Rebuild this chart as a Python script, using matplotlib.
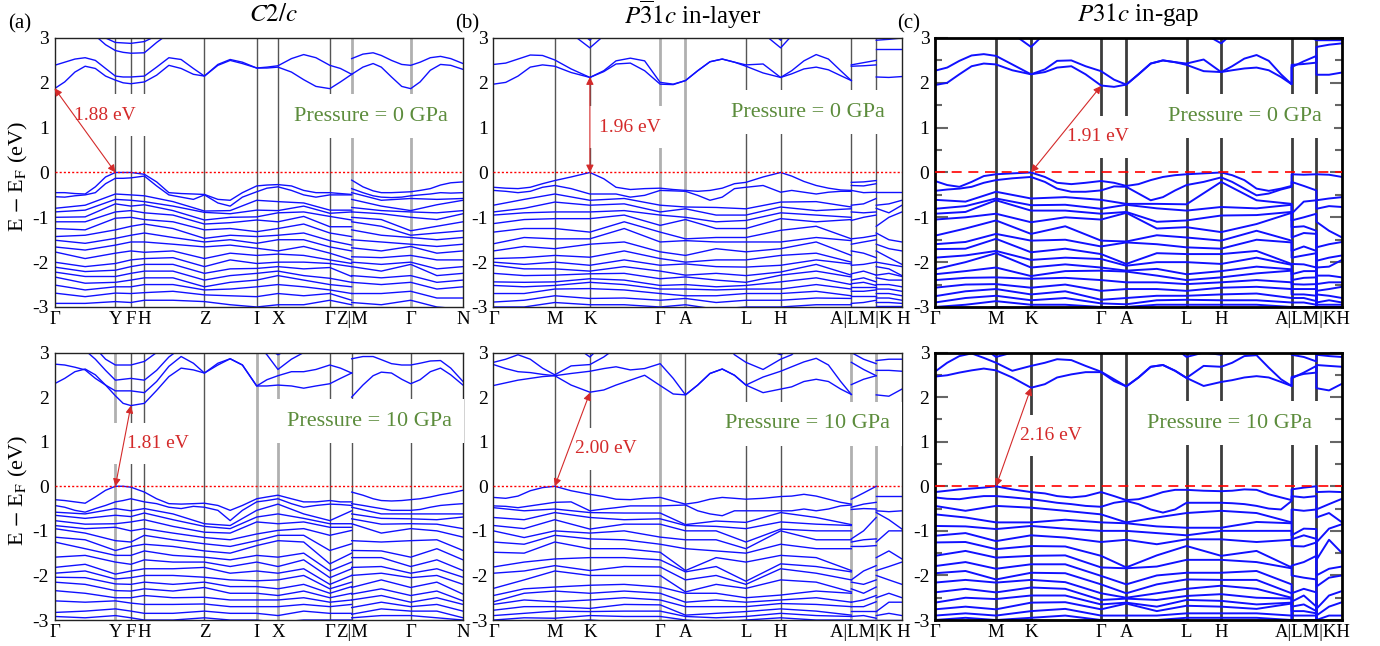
# ==========================================
# BAND STRUCTURES  C2/c | P-31c | P31c
# 0 GPa (top row) and 10 GPa (bottom row)
# ==========================================

import numpy as np
import matplotlib
matplotlib.use("Agg")
import matplotlib.pyplot as plt

plt.rcParams["font.family"] = ["Liberation Serif", "DejaVu Serif"]
plt.rcParams["mathtext.fontset"] = "stix"

BLUE = "#1010ff"
RED = "#d42a2a"
GREEN = "#5c8c3c"


# ==========================================
# K-PATHS
# fine grid: conduction bands + two top valence bands (one row per band)
# coarse grid: deeper valence bands (one row per k-point, sorted)
# ==========================================

a_f1 = [0, 0.025, 0.05, 0.075, 0.10, 0.125, 0.149, 0.168, 0.187, 0.22, 0.25, 0.28, 0.31, 0.34,
        0.367, 0.40, 0.43, 0.46, 0.495, 0.52, 0.547, 0.58, 0.61, 0.64, 0.674, 0.70, 0.7275]
a_f2 = [0.7275, 0.755, 0.78, 0.80, 0.825, 0.85, 0.872, 0.895, 0.92, 0.945, 0.97, 1.0]
a_k1 = [0, 0.075, 0.149, 0.187, 0.22, 0.29, 0.367, 0.43, 0.495, 0.547, 0.61, 0.674, 0.7275]
a_k2 = [0.7275, 0.80, 0.872, 0.936, 1.0]
a_ticks = [0, 0.149, 0.187, 0.22, 0.367, 0.495, 0.547, 0.674, 0.7275, 0.872, 1.0]
a_labels = ["Γ", "Y", "F", "H", "Z", "I", "X", "Γ", "Z|M", "Γ", "N"]

hex_f1 = [0, 0.03, 0.06, 0.09, 0.12, 0.15, 0.19, 0.236, 0.27, 0.30, 0.335, 0.37, 0.408, 0.44,
          0.47, 0.50, 0.53, 0.56, 0.59, 0.618, 0.66, 0.703, 0.73, 0.76, 0.79, 0.82, 0.85, 0.876]
hex_k1 = [0, 0.075, 0.15, 0.236, 0.32, 0.408, 0.47, 0.545, 0.618, 0.703, 0.79, 0.876]
hex_k2 = [0.876, 0.906, 0.937]
hex_k3 = [0.937, 0.968, 1.0]
hex_ticks = [0, 0.15, 0.236, 0.408, 0.47, 0.618, 0.703, 0.876, 0.937, 1.0]
hex_labels = ["Γ", "M", "K", "Γ", "A", "L", "H", "", "", ""]
b_tail = "A|LM|K H"
c_tail = "A|LM|KH"


# ==========================================
# (a) C2/c, 0 GPa
# ==========================================

a0_f1 = [
    [1.87, 2.02, 2.24, 2.37, 2.32, 2.15, 2.06, 2.00, 1.98, 2.02, 2.17, 2.39, 2.32, 2.19, 2.15, 2.39, 2.50, 2.43, 2.33, 2.33, 2.35, 2.24, 2.07, 1.92, 1.87, 2.02, 2.19],
    [2.39, 2.46, 2.53, 2.56, 2.50, 2.32, 2.15, 2.13, 2.13, 2.15, 2.35, 2.56, 2.52, 2.32, 2.15, 2.41, 2.52, 2.46, 2.33, 2.35, 2.38, 2.54, 2.63, 2.56, 2.39, 2.32, 2.19],
    [3.30, 3.30, 3.30, 3.20, 3.05, 2.85, 2.72, 2.68, 2.66, 2.67, 2.90, 3.10, 3.30, 3.30, 3.30, 3.30, 3.30, 3.30, 3.30, 3.20, 3.02, 3.20, 3.30, 3.30, 3.30, 3.30, 3.30],
    [3.50, 3.50, 3.50, 3.40, 3.20, 3.00, 2.90, 2.89, 2.88, 2.92, 3.05, 3.20, 3.50, 3.50, 3.50, 3.50, 3.50, 3.50, 3.50, 3.50, 3.50, 3.50, 3.50, 3.50, 3.50, 3.50, 3.50],
    [-0.45, -0.45, -0.47, -0.48, -0.32, -0.10, 0.00, 0.00, 0.00, -0.04, -0.21, -0.45, -0.47, -0.48, -0.49, -0.60, -0.62, -0.45, -0.30, -0.28, -0.27, -0.30, -0.40, -0.45, -0.45, -0.47, -0.49],
    [-0.54, -0.55, -0.52, -0.50, -0.45, -0.25, -0.13, -0.13, -0.12, -0.08, -0.30, -0.50, -0.55, -0.60, -0.50, -0.68, -0.75, -0.55, -0.43, -0.35, -0.32, -0.40, -0.50, -0.55, -0.50, -0.50, -0.50],
]
a0_f2 = [
    [2.19, 2.35, 2.43, 2.35, 2.13, 1.92, 1.87, 2.02, 2.28, 2.41, 2.39, 2.30],
    [2.54, 2.64, 2.67, 2.61, 2.50, 2.41, 2.39, 2.46, 2.56, 2.59, 2.54, 2.43],
    [-0.17, -0.32, -0.41, -0.45, -0.45, -0.44, -0.43, -0.40, -0.36, -0.28, -0.23, -0.21],
    [-0.36, -0.45, -0.52, -0.55, -0.56, -0.55, -0.52, -0.50, -0.48, -0.45, -0.46, -0.45],
]
a0_v1 = [
    [-0.80, -0.88, -1.00, -1.10, -1.25, -1.43, -1.51, -1.66, -1.77, -2.00, -2.11, -2.22, -2.33, -2.51, -2.69, -2.92],
    [-0.73, -0.84, -0.99, -1.10, -1.28, -1.40, -1.58, -1.73, -1.92, -2.10, -2.21, -2.32, -2.47, -2.62, -2.77, -2.92],
    [-0.48, -0.60, -0.70, -0.88, -1.02, -1.28, -1.47, -1.62, -1.80, -2.03, -2.18, -2.32, -2.45, -2.55, -2.69, -2.88],
    [-0.50, -0.62, -0.75, -0.85, -1.00, -1.20, -1.40, -1.55, -1.75, -1.95, -2.10, -2.25, -2.40, -2.55, -2.70, -2.90],
    [-0.52, -0.65, -0.72, -0.90, -1.05, -1.15, -1.35, -1.55, -1.78, -1.92, -2.05, -2.20, -2.35, -2.50, -2.68, -2.85],
    [-0.65, -0.75, -0.85, -0.95, -1.10, -1.25, -1.45, -1.60, -1.75, -1.90, -2.05, -2.20, -2.35, -2.50, -2.65, -2.85],
    [-0.86, -0.89, -1.06, -1.15, -1.28, -1.47, -1.55, -1.66, -1.92, -2.10, -2.25, -2.40, -2.55, -2.62, -2.73, -2.88],
    [-0.85, -0.92, -1.00, -1.12, -1.25, -1.40, -1.50, -1.62, -1.80, -1.95, -2.15, -2.30, -2.45, -2.60, -2.75, -2.95],
    [-0.62, -0.84, -0.99, -1.06, -1.32, -1.43, -1.58, -1.69, -1.85, -2.03, -2.14, -2.25, -2.40, -2.55, -2.77, -3.00],
    [-0.65, -0.85, -0.90, -1.10, -1.25, -1.40, -1.50, -1.75, -1.82, -2.00, -2.10, -2.20, -2.30, -2.50, -2.70, -2.95],
    [-0.68, -0.75, -0.88, -0.98, -1.15, -1.35, -1.50, -1.65, -1.85, -2.00, -2.15, -2.30, -2.40, -2.55, -2.75, -2.95],
    [-0.84, -0.91, -0.98, -1.21, -1.35, -1.52, -1.66, -1.80, -1.95, -2.03, -2.12, -2.36, -2.50, -2.62, -2.70, -2.85],
    [-0.84, -0.88, -1.06, -1.21, -1.43, -1.62, -1.75, -1.95, -2.03, -2.10, -2.32, -2.45, -2.55, -2.70, -2.85, -2.95],
]
a0_v2 = [
    [-0.45, -0.60, -0.78, -0.88, -1.00, -1.10, -1.28, -1.50, -1.68, -1.88, -2.00, -2.10, -2.30, -2.45, -2.70, -2.90],
    [-0.62, -0.75, -0.85, -0.92, -1.05, -1.20, -1.40, -1.55, -1.75, -1.90, -2.05, -2.20, -2.35, -2.50, -2.70, -2.95],
    [-0.58, -0.85, -0.88, -1.00, -1.30, -1.40, -1.45, -1.60, -1.65, -1.85, -2.00, -2.05, -2.30, -2.45, -2.65, -2.85],
    [-0.60, -0.72, -0.90, -1.05, -1.20, -1.35, -1.50, -1.65, -1.80, -1.95, -2.15, -2.30, -2.45, -2.60, -2.80, -3.00],
    [-0.58, -0.62, -0.85, -0.92, -1.10, -1.30, -1.45, -1.60, -1.75, -1.95, -2.10, -2.25, -2.40, -2.55, -2.80, -3.05],
]


# ==========================================
# (a) C2/c, 10 GPa
# ==========================================

a1_f1 = [
    [2.30, 2.42, 2.57, 2.63, 2.50, 2.27, 2.03, 1.86, 1.81, 1.86, 2.15, 2.46, 2.65, 2.61, 2.54, 2.72, 2.86, 2.72, 2.25, 2.25, 2.27, 2.25, 2.20, 2.25, 2.30, 2.42, 2.54],
    [2.74, 2.72, 2.67, 2.61, 2.42, 2.27, 2.14, 2.14, 2.14, 2.10, 2.35, 2.69, 2.91, 2.76, 2.54, 2.76, 2.86, 2.72, 2.25, 2.39, 2.48, 2.57, 2.57, 2.62, 2.72, 2.65, 2.54],
    [3.30, 3.30, 3.20, 3.05, 2.85, 2.60, 2.38, 2.40, 2.42, 2.38, 2.60, 2.90, 3.10, 3.30, 3.30, 3.30, 3.30, 3.30, 3.20, 2.95, 2.62, 2.85, 3.00, 3.30, 3.30, 3.30, 3.30],
    [3.50, 3.50, 3.40, 3.30, 3.10, 2.85, 2.72, 2.72, 2.72, 2.80, 3.00, 3.20, 3.50, 3.50, 3.50, 3.50, 3.50, 3.50, 3.40, 3.10, 2.95, 3.10, 3.30, 3.50, 3.50, 3.50, 3.50],
    [-0.30, -0.32, -0.35, -0.38, -0.24, -0.09, 0.00, 0.00, -0.02, -0.13, -0.28, -0.39, -0.40, -0.39, -0.38, -0.43, -0.54, -0.43, -0.28, -0.24, -0.20, -0.28, -0.35, -0.35, -0.32, -0.35, -0.35],
    [-0.43, -0.47, -0.54, -0.58, -0.50, -0.43, -0.35, -0.32, -0.28, -0.35, -0.39, -0.47, -0.50, -0.45, -0.47, -0.54, -0.77, -0.54, -0.35, -0.32, -0.28, -0.39, -0.47, -0.43, -0.40, -0.41, -0.43],
]
a1_f2 = [
    [2.00, 2.27, 2.48, 2.56, 2.54, 2.40, 2.30, 2.39, 2.57, 2.65, 2.50, 2.27],
    [2.86, 2.91, 2.91, 2.84, 2.75, 2.72, 2.72, 2.76, 2.81, 2.82, 2.65, 2.35],
    [-0.13, -0.20, -0.28, -0.32, -0.33, -0.32, -0.30, -0.28, -0.24, -0.19, -0.15, -0.09],
    [-0.39, -0.43, -0.47, -0.50, -0.54, -0.54, -0.54, -0.52, -0.47, -0.43, -0.41, -0.39],
]
a1_v1 = [
    [-0.58, -0.65, -0.77, -0.88, -0.95, -1.14, -1.25, -1.59, -1.82, -1.95, -2.04, -2.15, -2.34, -2.57, -2.83, -2.92],
    [-0.62, -0.72, -0.85, -0.95, -1.05, -1.20, -1.40, -1.55, -1.75, -1.90, -2.05, -2.20, -2.40, -2.60, -2.80, -2.95],
    [-0.50, -0.65, -0.84, -0.92, -1.22, -1.44, -1.55, -1.70, -1.97, -2.08, -2.19, -2.34, -2.50, -2.57, -2.75, -2.90],
    [-0.55, -0.68, -0.80, -1.00, -1.25, -1.35, -1.55, -1.75, -1.90, -2.05, -2.20, -2.35, -2.50, -2.62, -2.80, -2.95],
    [-0.50, -0.60, -0.75, -0.95, -1.10, -1.30, -1.45, -1.65, -1.85, -2.00, -2.15, -2.30, -2.45, -2.65, -2.85, -3.00],
    [-0.62, -0.75, -0.90, -1.05, -1.20, -1.35, -1.55, -1.70, -1.85, -2.00, -2.20, -2.35, -2.50, -2.65, -2.85, -3.00],
    [-0.84, -0.90, -1.03, -1.15, -1.29, -1.45, -1.59, -1.70, -1.82, -2.04, -2.15, -2.27, -2.49, -2.64, -2.80, -2.95],
    [-0.88, -0.95, -1.05, -1.20, -1.35, -1.50, -1.65, -1.80, -1.95, -2.10, -2.25, -2.40, -2.55, -2.70, -2.85, -3.00],
    [-0.54, -0.69, -0.80, -1.07, -1.22, -1.33, -1.55, -1.70, -1.90, -2.12, -2.25, -2.40, -2.55, -2.70, -2.85, -3.00],
    [-0.40, -0.62, -0.84, -0.99, -1.10, -1.22, -1.59, -1.80, -1.95, -2.10, -2.30, -2.45, -2.55, -2.70, -2.90, -3.05],
    [-0.62, -0.72, -0.80, -0.95, -1.10, -1.25, -1.50, -1.65, -1.85, -2.00, -2.20, -2.35, -2.50, -2.65, -2.80, -3.00],
    [-0.77, -0.84, -0.92, -1.10, -1.44, -1.74, -1.90, -2.05, -2.20, -2.30, -2.40, -2.50, -2.60, -2.70, -2.85, -3.00],
    [-0.55, -0.84, -0.92, -0.99, -1.29, -1.50, -1.70, -1.85, -2.00, -2.15, -2.25, -2.40, -2.55, -2.65, -2.85, -3.00],
]
a1_v2 = [
    [-0.47, -0.62, -0.73, -0.84, -1.22, -1.44, -1.60, -1.82, -2.00, -2.27, -2.42, -2.55, -2.72, -2.87, -2.95, -3.10],
    [-0.62, -0.72, -0.85, -1.05, -1.25, -1.45, -1.60, -1.80, -1.95, -2.10, -2.30, -2.45, -2.60, -2.75, -2.90, -3.05],
    [-0.62, -0.73, -0.84, -0.95, -1.22, -1.59, -1.80, -1.95, -2.05, -2.27, -2.45, -2.60, -2.70, -2.80, -2.90, -3.05],
    [-0.62, -0.75, -0.85, -1.00, -1.20, -1.40, -1.65, -1.85, -2.00, -2.15, -2.35, -2.50, -2.65, -2.80, -2.95, -3.05],
    [-0.62, -0.69, -0.95, -1.14, -1.44, -1.65, -1.89, -2.04, -2.20, -2.42, -2.57, -2.65, -2.80, -2.95, -3.00, -3.10],
]


# ==========================================
# (b) P-31c in-layer, 0 GPa
# ==========================================

b0_f1 = [
    [1.97, 2.01, 2.15, 2.35, 2.40, 2.37, 2.23, 2.12, 2.25, 2.42, 2.44, 2.27, 1.97, 1.96, 2.05, 2.27, 2.47, 2.53, 2.46, 2.37, 2.22, 2.12, 2.20, 2.31, 2.35, 2.29, 2.16, 2.05],
    [2.41, 2.44, 2.53, 2.62, 2.61, 2.51, 2.31, 2.12, 2.27, 2.49, 2.55, 2.49, 2.01, 1.97, 2.05, 2.27, 2.47, 2.53, 2.46, 2.40, 2.42, 2.12, 2.27, 2.49, 2.63, 2.53, 2.27, 2.05],
    [3.30, 3.30, 3.30, 3.30, 3.30, 3.30, 3.10, 2.78, 3.05, 3.30, 3.30, 3.30, 3.30, 3.30, 3.30, 3.30, 3.30, 3.30, 3.30, 3.30, 3.10, 2.78, 3.05, 3.30, 3.30, 3.30, 3.30, 3.30],
    [3.50, 3.50, 3.50, 3.50, 3.50, 3.50, 3.30, 2.95, 3.30, 3.50, 3.50, 3.50, 3.50, 3.50, 3.50, 3.50, 3.50, 3.50, 3.50, 3.50, 3.30, 2.95, 3.30, 3.50, 3.50, 3.50, 3.50, 3.50],
    [-0.33, -0.35, -0.36, -0.33, -0.25, -0.18, -0.10, 0.00, -0.14, -0.33, -0.38, -0.36, -0.35, -0.38, -0.40, -0.42, -0.40, -0.35, -0.25, -0.22, -0.10, 0.00, -0.08, -0.20, -0.29, -0.35, -0.39, -0.40],
    [-0.40, -0.42, -0.45, -0.42, -0.33, -0.29, -0.36, -0.48, -0.48, -0.48, -0.55, -0.51, -0.40, -0.41, -0.42, -0.51, -0.62, -0.55, -0.36, -0.33, -0.29, -0.44, -0.40, -0.44, -0.48, -0.44, -0.42, -0.42],
]
b0_f2 = [[2.37, 2.38, 2.40], [2.40, 2.45, 2.50], [3.20, 3.20, 3.20],
         [-0.22, -0.21, -0.18], [-0.29, -0.30, -0.25]]
b0_f3 = [[2.13, 2.12, 2.14], [2.75, 2.75, 2.75], [2.95, 2.97, 3.00],
         [-0.44, -0.44, -0.44], [-0.73, -0.70, -0.62]]
b0_v1 = [
    [-0.73, -0.88, -0.95, -1.14, -1.33, -1.59, -1.75, -1.92, -2.00, -2.07, -2.25, -2.44, -2.52, -2.70, -2.89, -3.00],
    [-0.60, -0.80, -0.90, -1.05, -1.25, -1.45, -1.65, -1.90, -2.05, -2.15, -2.30, -2.45, -2.55, -2.70, -2.85, -3.00],
    [-0.48, -0.66, -0.88, -1.03, -1.25, -1.48, -1.70, -1.85, -2.00, -2.15, -2.29, -2.44, -2.52, -2.60, -2.75, -2.90],
    [-0.62, -0.73, -0.88, -1.03, -1.33, -1.48, -1.60, -1.89, -2.07, -2.20, -2.26, -2.37, -2.45, -2.59, -2.81, -2.95],
    [-0.58, -0.70, -0.85, -0.95, -1.10, -1.25, -1.55, -1.75, -1.95, -2.10, -2.25, -2.40, -2.50, -2.62, -2.80, -2.95],
    [-0.73, -0.88, -0.95, -1.18, -1.33, -1.55, -1.77, -1.92, -2.07, -2.20, -2.37, -2.52, -2.60, -2.70, -2.85, -3.00],
    [-0.77, -0.81, -1.00, -1.05, -1.48, -1.52, -1.85, -2.00, -2.04, -2.29, -2.33, -2.50, -2.60, -2.75, -2.81, -2.95],
    [-0.78, -0.95, -1.10, -1.25, -1.45, -1.55, -1.70, -1.95, -2.10, -2.25, -2.40, -2.55, -2.62, -2.75, -2.90, -3.05],
    [-0.81, -0.95, -1.07, -1.25, -1.45, -1.55, -1.77, -1.95, -2.11, -2.30, -2.45, -2.52, -2.60, -2.70, -2.85, -3.00],
    [-0.66, -0.77, -0.90, -1.03, -1.29, -1.55, -1.70, -1.85, -2.07, -2.22, -2.29, -2.44, -2.60, -2.70, -2.85, -3.00],
    [-0.65, -0.85, -0.95, -1.10, -1.20, -1.45, -1.55, -1.80, -1.95, -2.05, -2.20, -2.35, -2.50, -2.65, -2.80, -2.95],
    [-0.77, -0.81, -1.00, -1.05, -1.48, -1.52, -1.85, -2.00, -2.04, -2.29, -2.33, -2.50, -2.60, -2.75, -2.81, -2.95],
]
b0_v2 = [
    [-0.40, -0.73, -0.88, -1.07, -1.48, -1.60, -1.75, -2.07, -2.26, -2.40, -2.48, -2.55, -2.65, -2.75, -2.92, -3.00],
    [-0.45, -0.70, -0.90, -1.00, -1.45, -1.55, -1.80, -2.05, -2.20, -2.35, -2.45, -2.55, -2.65, -2.75, -2.90, -3.00],
    [-0.44, -0.58, -0.88, -0.95, -1.40, -1.50, -1.90, -2.00, -2.29, -2.44, -2.52, -2.55, -2.62, -2.75, -2.85, -3.00],
]
b0_v3 = [
    [-0.80, -1.20, -1.35, -1.60, -1.75, -2.00, -2.10, -2.29, -2.35, -2.50, -2.60, -2.70, -2.80, -2.90, -2.98, -3.05],
    [-0.90, -1.00, -1.50, -1.70, -1.90, -2.05, -2.15, -2.25, -2.40, -2.50, -2.60, -2.70, -2.80, -2.90, -2.98, -3.05],
    [-0.73, -0.88, -1.55, -1.75, -2.05, -2.10, -2.30, -2.32, -2.40, -2.55, -2.65, -2.75, -2.85, -2.92, -2.98, -3.05],
]


# ==========================================
# (b) P-31c in-layer, 10 GPa
# ==========================================

b1_f1 = [
    [2.26, 2.32, 2.38, 2.42, 2.46, 2.48, 2.27, 2.11, 2.16, 2.27, 2.38, 2.49, 2.26, 2.07, 2.05, 2.27, 2.53, 2.63, 2.49, 2.27, 2.10, 2.18, 2.23, 2.35, 2.40, 2.35, 2.18, 2.06],
    [2.73, 2.64, 2.57, 2.55, 2.51, 2.48, 2.53, 2.58, 2.64, 2.68, 2.61, 2.64, 2.75, 2.42, 2.05, 2.27, 2.53, 2.63, 2.49, 2.27, 2.45, 2.58, 2.68, 2.79, 2.87, 2.72, 2.35, 2.06],
    [2.78, 2.85, 2.95, 2.85, 2.65, 2.50, 2.70, 2.73, 2.90, 3.10, 3.30, 3.30, 3.30, 3.30, 3.30, 3.30, 3.30, 3.30, 2.95, 2.78, 2.62, 2.85, 2.95, 3.20, 3.30, 3.30, 3.30, 3.30],
    [3.50, 3.50, 3.50, 3.50, 3.50, 3.50, 3.20, 2.90, 3.20, 3.50, 3.50, 3.50, 3.50, 3.50, 3.50, 3.50, 3.50, 3.50, 3.50, 3.30, 3.10, 2.95, 3.10, 3.30, 3.50, 3.50, 3.50, 3.50],
    [-0.25, -0.27, -0.22, -0.10, -0.03, 0.00, -0.10, -0.18, -0.23, -0.29, -0.30, -0.27, -0.25, -0.33, -0.40, -0.36, -0.29, -0.25, -0.27, -0.29, -0.27, -0.23, -0.22, -0.18, -0.22, -0.29, -0.36, -0.40],
    [-0.44, -0.45, -0.48, -0.44, -0.40, -0.36, -0.35, -0.55, -0.51, -0.48, -0.44, -0.44, -0.44, -0.43, -0.42, -0.55, -0.62, -0.66, -0.55, -0.55, -0.55, -0.55, -0.55, -0.51, -0.55, -0.51, -0.44, -0.42],
]
b1_f2 = [[2.28, 2.40, 2.48], [2.78, 2.62, 2.48], [3.00, 2.85, 2.75],
         [-0.29, -0.15, 0.00], [-0.47, -0.40, -0.36]]
b1_f3 = [[2.05, 2.02, 2.18], [2.60, 2.60, 2.58], [2.82, 2.85, 2.85],
         [-0.22, -0.22, -0.22], [-0.55, -0.57, -0.55]]
b1_v1 = [
    [-0.48, -0.70, -0.88, -1.00, -1.25, -1.48, -1.81, -1.95, -2.29, -2.45, -2.59, -2.65, -2.78, -2.90, -3.00, -3.10],
    [-0.55, -0.75, -0.95, -1.15, -1.30, -1.50, -1.70, -1.90, -2.10, -2.30, -2.40, -2.55, -2.70, -2.85, -2.95, -3.10],
    [-0.51, -0.59, -0.75, -1.00, -1.10, -1.25, -1.63, -1.78, -1.90, -2.26, -2.35, -2.59, -2.70, -2.80, -2.96, -3.05],
    [-0.59, -0.70, -0.96, -1.05, -1.18, -1.40, -1.60, -1.89, -2.00, -2.22, -2.40, -2.55, -2.74, -2.81, -2.90, -3.00],
    [-0.60, -0.75, -0.85, -1.00, -1.20, -1.40, -1.60, -1.80, -2.00, -2.20, -2.35, -2.50, -2.65, -2.80, -2.92, -3.05],
    [-0.60, -0.73, -0.85, -1.14, -1.30, -1.48, -1.65, -1.81, -2.00, -2.26, -2.40, -2.55, -2.66, -2.80, -2.92, -3.05],
    [-0.86, -0.88, -1.00, -1.20, -1.40, -1.89, -1.92, -2.10, -2.37, -2.40, -2.60, -2.70, -2.89, -2.92, -3.00, -3.10],
    [-0.78, -0.90, -1.00, -1.20, -1.45, -1.60, -1.80, -2.00, -2.20, -2.40, -2.55, -2.70, -2.85, -2.95, -3.05, -3.15],
    [-0.81, -0.95, -1.25, -1.40, -1.50, -1.70, -2.13, -2.20, -2.29, -2.50, -2.60, -2.70, -2.81, -2.92, -3.00, -3.10],
    [-0.59, -0.80, -0.96, -1.00, -1.30, -1.55, -1.74, -1.85, -2.10, -2.44, -2.55, -2.63, -2.75, -2.85, -2.95, -3.05],
    [-0.70, -0.85, -1.00, -1.20, -1.40, -1.60, -1.80, -1.95, -2.15, -2.35, -2.50, -2.65, -2.80, -2.90, -3.00, -3.10],
    [-0.86, -0.88, -1.00, -1.20, -1.40, -1.89, -1.92, -2.10, -2.37, -2.40, -2.60, -2.70, -2.89, -2.92, -3.00, -3.10],
]
b1_v2 = [
    [-0.52, -1.18, -1.25, -1.35, -2.10, -2.15, -2.30, -2.60, -2.70, -2.80, -2.92, -3.00, -3.05, -3.10, -3.15, -3.20],
    [-0.50, -1.00, -1.20, -1.35, -1.90, -2.20, -2.40, -2.55, -2.70, -2.80, -2.90, -3.00, -3.05, -3.10, -3.15, -3.20],
    [-0.51, -0.70, -1.18, -1.33, -1.78, -2.10, -2.26, -2.45, -2.59, -2.80, -2.96, -3.00, -3.05, -3.10, -3.15, -3.20],
]
b1_v3 = [
    [-0.59, -1.25, -1.60, -1.89, -2.00, -2.50, -2.81, -2.90, -3.00, -3.05, -3.10, -3.15, -3.20, -3.25, -3.30, -3.35],
    [-0.75, -1.00, -1.45, -1.80, -2.10, -2.40, -2.60, -2.85, -3.00, -3.05, -3.10, -3.15, -3.20, -3.25, -3.30, -3.35],
    [-0.96, -1.00, -1.63, -1.70, -2.20, -2.50, -2.60, -2.90, -3.00, -3.05, -3.10, -3.15, -3.20, -3.25, -3.30, -3.35],
]


# ==========================================
# (c) P31c in-gap, 0 GPa
# ==========================================

c0_f1 = [
    [1.95, 2.00, 2.19, 2.37, 2.43, 2.41, 2.28, 2.19, 2.24, 2.34, 2.37, 2.19, 1.94, 1.91, 1.96, 2.19, 2.43, 2.50, 2.46, 2.40, 2.26, 2.24, 2.28, 2.32, 2.34, 2.28, 2.13, 1.97],
    [2.27, 2.34, 2.49, 2.61, 2.64, 2.60, 2.41, 2.19, 2.30, 2.49, 2.50, 2.37, 2.26, 2.07, 1.96, 2.19, 2.43, 2.50, 2.46, 2.43, 2.52, 2.24, 2.37, 2.54, 2.62, 2.49, 2.19, 1.97],
    [3.30, 3.30, 3.30, 3.30, 3.30, 3.30, 3.10, 2.80, 3.10, 3.30, 3.30, 3.30, 3.30, 3.30, 3.30, 3.30, 3.30, 3.30, 3.30, 3.30, 3.10, 2.88, 3.10, 3.30, 3.30, 3.30, 3.30, 3.30],
    [-0.19, -0.28, -0.32, -0.21, -0.08, -0.04, -0.02, 0.00, -0.10, -0.23, -0.26, -0.23, -0.19, -0.23, -0.30, -0.26, -0.17, -0.10, -0.06, -0.04, -0.02, 0.00, -0.06, -0.17, -0.36, -0.41, -0.36, -0.30],
    [-0.41, -0.38, -0.36, -0.32, -0.23, -0.17, -0.13, -0.10, -0.21, -0.36, -0.43, -0.43, -0.40, -0.31, -0.32, -0.47, -0.62, -0.55, -0.40, -0.28, -0.21, -0.11, -0.21, -0.36, -0.51, -0.47, -0.38, -0.32],
]
c0_f2 = [[2.35, 2.48, 2.60], [2.40, 2.42, 2.45], [3.20, 3.10, 2.95],
         [-0.04, -0.05, -0.04], [-0.21, -0.30, -0.40]]
c0_f3 = [[2.18, 2.18, 2.23], [2.80, 2.85, 2.88], [2.95, 2.95, 2.95],
         [-0.04, -0.05, -0.10], [-0.62, -0.58, -0.55]]
c0_v1 = [
    [-0.61, -0.81, -0.92, -1.05, -1.41, -1.60, -1.71, -1.90, -2.16, -2.27, -2.40, -2.57, -2.76, -2.90, -3.00, -3.10],
    [-0.65, -0.75, -0.88, -1.00, -1.25, -1.55, -1.70, -1.85, -2.00, -2.20, -2.35, -2.50, -2.65, -2.80, -2.95, -3.10],
    [-0.43, -0.58, -0.62, -0.92, -1.07, -1.37, -1.48, -1.75, -1.80, -2.12, -2.34, -2.49, -2.60, -2.75, -2.87, -3.00],
    [-0.58, -0.73, -0.85, -1.11, -1.37, -1.52, -1.78, -1.95, -2.12, -2.31, -2.37, -2.57, -2.72, -2.85, -2.95, -3.05],
    [-0.55, -0.72, -0.85, -1.00, -1.20, -1.50, -1.70, -1.90, -2.05, -2.20, -2.35, -2.50, -2.65, -2.80, -2.95, -3.05],
    [-0.61, -0.81, -0.92, -1.05, -1.52, -1.65, -1.82, -1.93, -2.12, -2.19, -2.40, -2.64, -2.84, -2.92, -3.00, -3.10],
    [-0.70, -0.72, -0.88, -0.90, -1.54, -1.56, -2.04, -2.08, -2.19, -2.21, -2.45, -2.60, -2.80, -2.94, -3.00, -3.10],
    [-0.70, -0.80, -1.10, -1.25, -1.40, -1.60, -1.80, -2.00, -2.15, -2.30, -2.45, -2.60, -2.75, -2.85, -2.95, -3.10],
    [-0.71, -0.85, -1.07, -1.22, -1.45, -1.67, -1.82, -2.00, -2.27, -2.40, -2.49, -2.64, -2.75, -2.84, -2.95, -3.05],
    [-0.21, -0.77, -0.96, -1.33, -1.52, -1.70, -1.82, -2.04, -2.20, -2.34, -2.45, -2.57, -2.72, -2.85, -2.95, -3.05],
    [-0.62, -0.80, -0.95, -1.15, -1.30, -1.50, -1.75, -1.90, -2.10, -2.25, -2.40, -2.55, -2.70, -2.85, -2.95, -3.05],
    [-0.70, -0.72, -0.88, -0.90, -1.52, -1.56, -2.04, -2.06, -2.16, -2.19, -2.45, -2.60, -2.80, -2.90, -3.00, -3.10],
]
c0_v2 = [
    [-0.92, -1.07, -1.22, -1.45, -1.75, -1.90, -2.04, -2.27, -2.40, -2.49, -2.60, -2.72, -2.80, -2.90, -3.00, -3.10],
    [-0.65, -1.00, -1.20, -1.35, -1.65, -1.85, -2.05, -2.20, -2.35, -2.50, -2.60, -2.72, -2.80, -2.90, -3.00, -3.10],
    [-0.62, -0.92, -1.30, -1.37, -1.75, -1.80, -2.12, -2.20, -2.34, -2.49, -2.60, -2.75, -2.87, -2.95, -3.00, -3.10],
]
c0_v3 = [
    [-0.81, -1.10, -1.67, -1.97, -2.12, -2.30, -2.49, -2.64, -2.72, -2.90, -2.95, -3.00, -3.05, -3.10, -3.15, -3.20],
    [-0.75, -1.30, -1.60, -1.90, -2.10, -2.30, -2.45, -2.60, -2.75, -2.85, -2.95, -3.00, -3.05, -3.10, -3.15, -3.20],
    [-0.77, -1.45, -1.55, -1.85, -1.95, -2.34, -2.45, -2.55, -2.80, -2.90, -2.95, -3.00, -3.05, -3.10, -3.15, -3.20],
]


# ==========================================
# (c) P31c in-gap, 10 GPa
# ==========================================

c1_f1 = [
    [2.46, 2.49, 2.55, 2.60, 2.64, 2.60, 2.44, 2.21, 2.29, 2.44, 2.51, 2.56, 2.56, 2.36, 2.24, 2.44, 2.68, 2.72, 2.59, 2.43, 2.25, 2.34, 2.38, 2.44, 2.47, 2.44, 2.34, 2.25],
    [2.57, 2.77, 2.92, 2.98, 2.88, 2.77, 2.59, 2.70, 2.77, 2.85, 2.83, 2.70, 2.57, 2.40, 2.24, 2.44, 2.68, 2.72, 2.59, 2.43, 2.70, 2.68, 2.77, 2.92, 2.94, 2.66, 2.40, 2.25],
    [3.30, 3.30, 3.30, 3.30, 3.10, 2.90, 3.00, 3.10, 3.30, 3.30, 3.30, 3.30, 3.30, 3.30, 3.30, 3.30, 3.30, 3.30, 3.10, 2.90, 3.00, 2.95, 3.10, 3.30, 3.30, 3.30, 3.30, 3.30],
    [-0.13, -0.10, -0.07, -0.05, -0.03, 0.00, -0.07, -0.13, -0.16, -0.22, -0.25, -0.22, -0.13, -0.22, -0.31, -0.29, -0.22, -0.13, -0.08, -0.08, -0.10, -0.11, -0.10, -0.07, -0.08, -0.18, -0.25, -0.31],
    [-0.25, -0.28, -0.29, -0.25, -0.22, -0.22, -0.25, -0.29, -0.33, -0.37, -0.40, -0.44, -0.46, -0.37, -0.33, -0.40, -0.52, -0.59, -0.52, -0.37, -0.37, -0.37, -0.38, -0.40, -0.44, -0.50, -0.52, -0.33],
]
c1_f2 = [[2.42, 2.55, 2.70], [2.45, 2.52, 2.55], [2.95, 2.90, 2.80],
         [-0.07, -0.03, 0.00], [-0.22, -0.25, -0.22]]
c1_f3 = [[2.20, 2.15, 2.30], [2.72, 2.70, 2.68], [2.95, 2.92, 2.90],
         [-0.13, -0.12, -0.13], [-0.52, -0.40, -0.28]]
c1_v1 = [
    [-0.44, -0.63, -0.89, -1.11, -1.26, -1.56, -1.79, -1.95, -2.16, -2.38, -2.61, -2.76, -2.90, -3.00, -3.10, -3.20],
    [-0.55, -0.70, -0.90, -1.05, -1.25, -1.45, -1.70, -1.90, -2.10, -2.30, -2.50, -2.70, -2.85, -2.95, -3.05, -3.20],
    [-0.44, -0.81, -0.96, -1.23, -1.41, -1.60, -1.85, -2.09, -2.16, -2.38, -2.53, -2.76, -2.90, -3.00, -3.10, -3.20],
    [-0.48, -0.81, -0.89, -1.10, -1.34, -1.56, -1.75, -1.94, -2.10, -2.27, -2.45, -2.61, -2.80, -2.95, -3.05, -3.20],
    [-0.55, -0.75, -0.95, -1.15, -1.35, -1.55, -1.75, -1.95, -2.15, -2.30, -2.45, -2.60, -2.75, -2.90, -3.05, -3.20],
    [-0.63, -0.81, -1.00, -1.25, -1.56, -1.82, -2.01, -2.20, -2.40, -2.55, -2.65, -2.76, -2.90, -3.00, -3.10, -3.20],
    [-0.81, -0.83, -1.00, -1.20, -1.82, -1.84, -2.20, -2.40, -2.50, -2.52, -2.61, -2.63, -2.90, -3.00, -3.10, -3.20],
    [-0.70, -0.90, -1.05, -1.30, -1.55, -1.80, -2.00, -2.20, -2.40, -2.55, -2.70, -2.80, -2.90, -3.00, -3.10, -3.20],
    [-0.60, -0.93, -1.10, -1.19, -1.34, -1.65, -1.94, -2.09, -2.30, -2.46, -2.55, -2.68, -2.85, -2.95, -3.05, -3.20],
    [-0.55, -0.93, -1.00, -1.19, -1.56, -1.65, -1.94, -2.10, -2.23, -2.42, -2.57, -2.70, -2.85, -2.95, -3.05, -3.20],
    [-0.60, -0.80, -1.00, -1.25, -1.45, -1.70, -1.90, -2.10, -2.30, -2.50, -2.65, -2.75, -2.85, -2.95, -3.05, -3.20],
    [-0.81, -0.83, -1.00, -1.20, -1.82, -1.84, -2.20, -2.40, -2.50, -2.52, -2.61, -2.63, -2.90, -3.00, -3.10, -3.20],
]
c1_v2 = [
    [-0.52, -1.10, -1.19, -1.34, -1.78, -2.00, -2.40, -2.59, -2.70, -2.80, -2.90, -3.00, -3.05, -3.10, -3.15, -3.20],
    [-0.55, -0.95, -1.10, -1.35, -1.70, -2.05, -2.30, -2.45, -2.65, -2.80, -2.90, -3.00, -3.05, -3.10, -3.15, -3.20],
    [-0.52, -0.96, -1.18, -1.26, -1.56, -2.09, -2.38, -2.70, -2.80, -2.85, -2.90, -3.00, -3.05, -3.10, -3.15, -3.20],
]
c1_v3 = [
    [-0.70, -1.26, -1.65, -2.00, -2.25, -2.75, -2.90, -3.00, -3.05, -3.10, -3.15, -3.20, -3.25, -3.30, -3.35, -3.40],
    [-0.60, -0.95, -1.20, -1.85, -2.05, -2.45, -2.70, -2.90, -3.05, -3.10, -3.15, -3.20, -3.25, -3.30, -3.35, -3.40],
    [-0.81, -0.85, -1.50, -1.80, -2.00, -2.35, -2.60, -2.90, -3.05, -3.10, -3.15, -3.20, -3.25, -3.30, -3.35, -3.40],
]


# ==========================================
# GAPS / LABELS
# ==========================================

titles = [r"$\mathit{C2/c}$", r"$P\overline{3}1c$ in-layer", r"$\mathit{P31c}$ in-gap"]
panel_tags = ["(a)", "(b)", "(c)"]
pressures = [0, 10]

# gap arrow ends (k, E) for [0 GPa, 10 GPa]
a_gap = [[(0.0, 1.88), (0.149, 0.0)], [(0.149, 0.0), (0.187, 1.81)]]
b_gap = [[(0.236, 0.0), (0.236, 2.13)], [(0.15, 0.0), (0.236, 2.10)]]
c_gap = [[(0.236, 0.0), (0.408, 1.93)], [(0.15, 0.0), (0.236, 2.21)]]
a_gap_text = ["1.88 eV", "1.81 eV"]
b_gap_text = ["1.96 eV", "2.00 eV"]
c_gap_text = ["1.91 eV", "2.16 eV"]


# ==========================================
# DRAWING HELPERS
# ==========================================

def draw_bands(ax, fine_ks, fine_rows, coarse_ks, coarse_cols, joined, lw):
    sets = [
        (fine_ks, [np.array(r) for r in fine_rows]),
        (coarse_ks, [np.array(c).T for c in coarse_cols]),
    ]
    for ks, Es in sets:
        if joined:
            # one line per band through all path pieces (jumps at A|L, M|K)
            ax.plot(np.concatenate(ks), np.hstack(Es).T, color=BLUE, lw=lw, zorder=2)
        else:
            for k, E in zip(ks, Es):
                ax.plot(k, E.T, color=BLUE, lw=lw, zorder=2)


def setup_axes(ax, ticks, labels, tail, vstyle, boxed):
    ax.set_xlim(0, 1)
    ax.set_ylim(-3, 3)
    styles = {"d": ("#555555", 1.0), "l": ("#b0b0b0", 2.0), "k": ("#3c3c3c", 2.0)}
    for x, s in zip(ticks[1:-1], vstyle):
        col, w = styles[s]
        ax.axvline(x, color=col, lw=w, zorder=1)

    ax.set_xticks(ticks)
    ax.set_xticklabels(labels, fontsize=13.5)
    ax.tick_params(axis="x", length=0, pad=3)
    if tail:
        ax.annotate(tail, xy=(1.0, 0.0), xycoords="axes fraction",
                    xytext=(6, -3), textcoords="offset points",
                    ha="right", va="top", fontsize=13.5)

    ax.set_yticks(range(-3, 4))
    ax.set_yticklabels([str(v) for v in range(-3, 4)], fontsize=14)

    if boxed:
        ax.set_yticks(np.arange(-3, 3.01, 0.5), minor=True)
        ax.tick_params(axis="y", which="major", direction="in", length=9,
                       width=1.5, color="#666666", left=True, right=True, pad=4)
        ax.tick_params(axis="y", which="minor", direction="in", length=5,
                       width=1.5, color="#666666", left=True, right=True)
        for sp in ax.spines.values():
            sp.set_linewidth(2.0)
            sp.set_color("black")
        ax.axhline(0, color="red", ls=(0, (6, 4)), lw=1.2, zorder=3)
    else:
        ax.tick_params(axis="y", length=0, pad=4)
        for sp in ax.spines.values():
            sp.set_linewidth(1.0)
            sp.set_color("#222222")
        ax.axhline(0, color="red", ls=(0, (1.5, 1.5)), lw=1.0, zorder=3)


def add_notes(ax, gap, gap_text, gap_xy, pressure, press_xy):
    ax.annotate("", xy=gap[1], xytext=gap[0],
                arrowprops=dict(arrowstyle="<|-|>", color=RED, lw=0.8,
                                mutation_scale=11, shrinkA=0, shrinkB=0),
                zorder=6)
    ax.text(gap_xy[0], gap_xy[1], gap_text, color=RED, fontsize=14,
            ha="center", va="center", zorder=5,
            bbox=dict(facecolor="white", edgecolor="none", pad=9))
    ax.text(press_xy[0], press_xy[1], f"Pressure = {pressure} GPa", color=GREEN,
            fontsize=16, ha="center", va="center", zorder=5,
            bbox=dict(facecolor="white", edgecolor="none", pad=9))


# ==========================================
# FIGURE
# ==========================================

fig = plt.figure(figsize=(13.8, 6.46), dpi=100)

col_left = [0.0395, 0.3576, 0.6775]
col_width = [0.2960, 0.2960, 0.2950]
row_bottom = [0.5248, 0.0402]
row_height = [0.4164, 0.4141]

panels = [
    # (a) C2/c
    dict(fine_ks=[a_f1, a_f2], coarse_ks=[a_k1, a_k2],
         ticks=a_ticks, labels=a_labels, tail=None, joined=False, lw=1.0, boxed=False,
         data=[([a0_f1, a0_f2], [a0_v1, a0_v2]), ([a1_f1, a1_f2], [a1_v1, a1_v2])],
         vstyle=[["d", "d", "d", "d", "d", "d", "d", "l", "l"],
                 ["l", "d", "d", "d", "l", "l", "d", "d", "d"]],
         gap=a_gap, gap_text=a_gap_text,
         gap_xy=[(0.123, 1.28), (0.253, 0.96)],
         press_xy=[(0.775, 1.25), (0.771, 1.46)]),
    # (b) P-31c in-layer
    dict(fine_ks=[hex_f1, hex_k2, hex_k3], coarse_ks=[hex_k1, hex_k2, hex_k3],
         ticks=hex_ticks, labels=hex_labels, tail=b_tail, joined=False, lw=1.0, boxed=False,
         data=[([b0_f1, b0_f2, b0_f3], [b0_v1, b0_v2, b0_v3]),
               ([b1_f1, b1_f2, b1_f3], [b1_v1, b1_v2, b1_v3])],
         vstyle=[["d", "d", "l", "l", "d", "d", "d", "d"],
                 ["d", "d", "l", "d", "d", "d", "l", "l"]],
         gap=b_gap, gap_text=b_gap_text,
         gap_xy=[(0.333, 1.01), (0.275, 0.84)],
         press_xy=[(0.771, 1.34), (0.768, 1.40)]),
    # (c) P31c in-gap
    dict(fine_ks=[hex_f1, hex_k2, hex_k3], coarse_ks=[hex_k1, hex_k2, hex_k3],
         ticks=hex_ticks, labels=hex_labels, tail=c_tail, joined=True, lw=1.4, boxed=True,
         data=[([c0_f1, c0_f2, c0_f3], [c0_v1, c0_v2, c0_v3]),
               ([c1_f1, c1_f2, c1_f3], [c1_v1, c1_v2, c1_v3])],
         vstyle=[["k"] * 8, ["k"] * 8],
         gap=c_gap, gap_text=c_gap_text,
         gap_xy=[(0.401, 0.80), (0.286, 1.14)],
         press_xy=[(0.761, 1.25), (0.724, 1.41)]),
]

for col, p in enumerate(panels):
    for row in range(2):
        ax = fig.add_axes([col_left[col], row_bottom[row], col_width[col], row_height[row]])
        setup_axes(ax, p["ticks"], p["labels"], p["tail"], p["vstyle"][row], p["boxed"])
        fine, coarse = p["data"][row]
        draw_bands(ax, p["fine_ks"], fine, p["coarse_ks"], coarse, p["joined"], p["lw"])
        add_notes(ax, p["gap"][row], p["gap_text"][row], p["gap_xy"][row],
                  pressures[row], p["press_xy"][row])

# titles, panel tags, y labels
title_x = [0.198, 0.502, 0.8246]
tag_x = [0.006, 0.330, 0.650]
for i in range(3):
    fig.text(title_x[i], 0.977, titles[i], fontsize=18, ha="center", va="center")
    fig.text(tag_x[i], 0.963, panel_tags[i], fontsize=15, ha="left", va="center")

for yc in [0.726, 0.241]:
    fig.text(0.0135, yc, r"E $-$ E$_{\rm F}$ (eV)", fontsize=16, rotation=90,
             ha="center", va="center")

fig.savefig("out.png", dpi=100)
